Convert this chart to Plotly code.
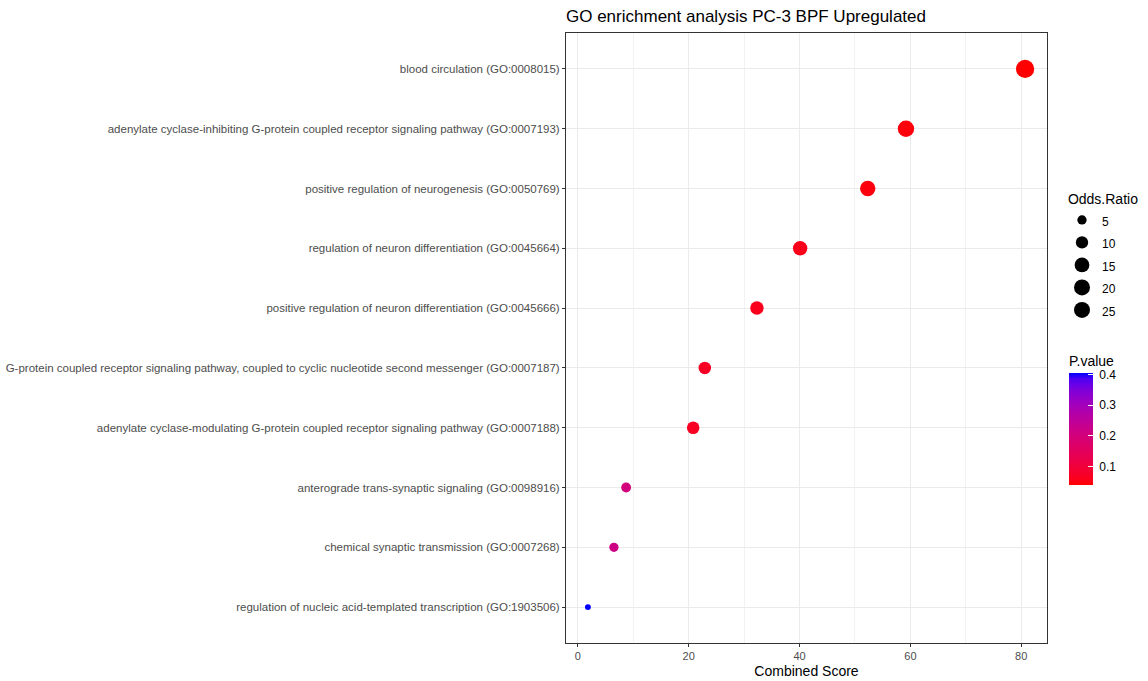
import numpy as np
import plotly.graph_objects as go

# ---------------- data ----------------
terms = [
    "blood circulation (GO:0008015)",
    "adenylate cyclase-inhibiting G-protein coupled receptor signaling pathway (GO:0007193)",
    "positive regulation of neurogenesis (GO:0050769)",
    "regulation of neuron differentiation (GO:0045664)",
    "positive regulation of neuron differentiation (GO:0045666)",
    "G-protein coupled receptor signaling pathway, coupled to cyclic nucleotide second messenger (GO:0007187)",
    "adenylate cyclase-modulating G-protein coupled receptor signaling pathway (GO:0007188)",
    "anterograde trans-synaptic signaling (GO:0098916)",
    "chemical synaptic transmission (GO:0007268)",
    "regulation of nucleic acid-templated transcription (GO:1903506)",
]
combined_score = [80.7, 59.2, 52.3, 40.1, 32.3, 22.9, 20.8, 8.7, 6.5, 1.8]
odds_ratio = [24.0, 19.0, 16.5, 14.3, 12.3, 10.4, 10.4, 5.7, 5.0, 1.0]
p_value = [0.040, 0.048, 0.050, 0.058, 0.062, 0.068, 0.070, 0.200, 0.215, 0.405]

legend_sizes = [5, 10, 15, 20, 25]
cbar_ticks = [0.1, 0.2, 0.3, 0.4]

# ---------------- helpers ----------------
def diameter(v):
    v = np.asarray(v, dtype=float)
    return np.sqrt(13.0 * v + 22.0)

def srgb_to_lab(rgb):
    c = np.array(rgb) / 255.0
    c = np.where(c > 0.04045, ((c + 0.055) / 1.055) ** 2.4, c / 12.92)
    M = np.array([[0.4124, 0.3576, 0.1805],
                  [0.2126, 0.7152, 0.0722],
                  [0.0193, 0.1192, 0.9505]])
    xyz = M @ c
    xyz = xyz / np.array([0.95047, 1.0, 1.08883])
    f = np.where(xyz > 0.008856, np.cbrt(xyz), 7.787 * xyz + 16 / 116)
    return np.array([116 * f[1] - 16, 500 * (f[0] - f[1]), 200 * (f[1] - f[2])])

def lab_to_srgb(lab):
    L, a, b = lab
    fy = (L + 16) / 116
    fx = fy + a / 500
    fz = fy - b / 200
    f = np.array([fx, fy, fz])
    xyz = np.where(f ** 3 > 0.008856, f ** 3, (f - 16 / 116) / 7.787)
    xyz = xyz * np.array([0.95047, 1.0, 1.08883])
    Minv = np.array([[3.2406, -1.5372, -0.4986],
                     [-0.9689, 1.8758, 0.0415],
                     [0.0557, -0.2040, 1.0570]])
    c = Minv @ xyz
    c = np.clip(c, 0, 1)
    c = np.where(c > 0.0031308, 1.055 * c ** (1 / 2.4) - 0.055, 12.92 * c)
    c = np.clip(np.round(c * 255), 0, 255).astype(int)
    return "rgb(%d,%d,%d)" % tuple(c)

lab_lo = srgb_to_lab([255, 0, 0])
lab_hi = srgb_to_lab([0, 0, 255])
colorscale = []
for t in np.linspace(0, 1, 21):
    colorscale.append([float(t), lab_to_srgb(lab_lo + (lab_hi - lab_lo) * t)])

FONT = "Liberation Sans, Arial"
NB = "\u00a0"

# ---------------- figure ----------------
fig = go.Figure()

fig.add_trace(go.Scatter(
    x=combined_score, y=terms, mode="markers", showlegend=False,
    marker=dict(
        size=diameter(odds_ratio), sizemode="diameter",
        color=p_value, colorscale=colorscale,
        cmin=min(p_value), cmax=max(p_value),
        line=dict(width=0), opacity=1,
        colorbar=dict(
            title=dict(text="P.value", side="top",
                       font=dict(size=14, color="black", family=FONT)),
            x=1.0457, xanchor="left", xref="paper", xpad=0,
            y=(643 - 485) / 610, yanchor="bottom", ypad=0,
            thickness=24, len=133, lenmode="pixels",
            outlinewidth=0,
            tickvals=cbar_ticks, ticktext=[NB + str(t) for t in cbar_ticks],
            ticks="inside", ticklen=5, tickcolor="white", tickwidth=1,
            tickfont=dict(size=12, color="black", family=FONT),
        ),
    ),
    hovertemplate="%{y}<br>Combined Score: %{x}<extra></extra>",
))

for s in legend_sizes:
    fig.add_trace(go.Scatter(
        x=[None], y=[None], mode="markers",
        name="<span style='font-size:12px'>%d</span>" % s,
        marker=dict(size=float(diameter([s])[0]), color="black", line=dict(width=0)),
        showlegend=True,
    ))

fig.update_layout(
    width=1148, height=681,
    margin=dict(l=566, r=101, t=33, b=38, autoexpand=False),
    paper_bgcolor="white", plot_bgcolor="white",
    font=dict(family=FONT, color="#4d4d4d", size=11),
    title=dict(text="GO enrichment analysis PC-3 BPF Upregulated",
               x=0, xref="paper", xanchor="left",
               y=1 - 16 / 681, yref="container", yanchor="middle",
               font=dict(size=17, color="black")),
    showlegend=True,
    legend=dict(
        title=dict(text=NB + "Odds.Ratio", font=dict(size=14, color="black")),
        x=(1062 - 566) / 481, xanchor="left", y=0.750, yanchor="top",
        itemsizing="trace", tracegroupgap=0,
        font=dict(size=15, color="black"),
        bgcolor="rgba(0,0,0,0)",
    ),
    xaxis=dict(
        range=[-2.15, 84.65], tickvals=[0, 20, 40, 60, 80],
        showgrid=True, gridcolor="#ebebeb", gridwidth=1.1,
        minor=dict(dtick=10, tick0=0, showgrid=True, gridcolor="#f2f2f2", gridwidth=0.6),
        zeroline=False,
        showline=True, linecolor="#333333", linewidth=1, mirror=True,
        ticks="outside", ticklen=3, tickcolor="#333333",
        tickfont=dict(size=11, color="#4d4d4d"),
        title=dict(text="Combined Score", font=dict(size=14, color="black"), standoff=4),
    ),
    yaxis=dict(
        categoryorder="array", categoryarray=terms[::-1],
        range=[-0.6, len(terms) - 0.4],
        showgrid=True, gridcolor="#ebebeb", gridwidth=1.1,
        zeroline=False,
        showline=True, linecolor="#333333", linewidth=1, mirror=True,
        ticks="outside", ticklen=3, tickcolor="#333333",
        tickfont=dict(size=11.5, color="#4d4d4d"),
    ),
)

fig.write_html("out.html")
